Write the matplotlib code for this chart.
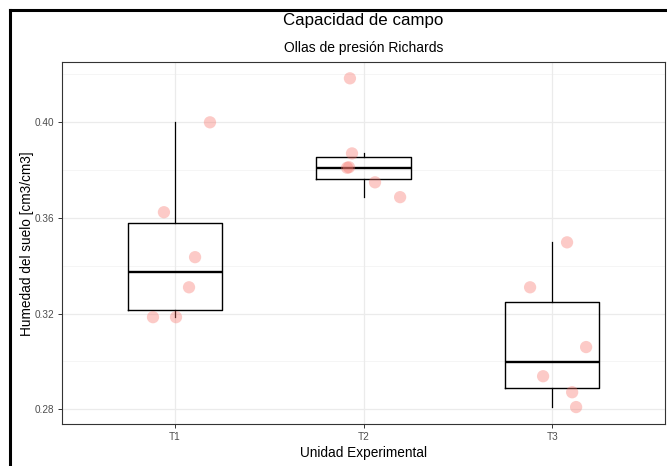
import matplotlib.pyplot as plt
from matplotlib.lines import Line2D
import numpy as np

plt.rcParams['font.family'] = ['Liberation Sans', 'DejaVu Sans']

# Datos
grupos = ['T1', 'T2', 'T3']
t1 = [0.400, 0.3624, 0.3436, 0.331, 0.3185, 0.3185]
t2 = [0.4184, 0.387, 0.381, 0.3812, 0.3749, 0.3687]
t3 = [0.3498, 0.331, 0.306, 0.2938, 0.2871, 0.2809]
# desplazamiento horizontal del jitter
jit1 = [0.186, -0.058, 0.107, 0.075, -0.116, 0.006]
jit2 = [-0.072, -0.061, -0.087, -0.077, 0.061, 0.194]
jit3 = [0.079, -0.117, 0.18, -0.048, 0.106, 0.127]

valores = [t1, t2, t3]
jitters = [jit1, jit2, jit3]

fig = plt.figure(figsize=(6.67, 4.66), dpi=100)
ax = fig.add_axes([0.0925, 0.0895, 0.905, 0.7768])

pos = np.arange(1, len(grupos) + 1)

# rejilla estilo theme_bw
for y in [0.30, 0.34, 0.38, 0.42]:
    ax.axhline(y, color='#F4F4F4', lw=0.6, zorder=0)
for y in [0.28, 0.32, 0.36, 0.40]:
    ax.axhline(y, color='#EBEBEB', lw=0.9, zorder=0)
for x in pos:
    ax.axvline(x, color='#EBEBEB', lw=0.9, zorder=0)

ax.boxplot(valores, positions=pos, widths=0.5, showfliers=False, showcaps=False,
           boxprops=dict(color='black', lw=1.0),
           whiskerprops=dict(color='black', lw=0.9),
           medianprops=dict(color='black', lw=1.7),
           zorder=2)

for p, vals, jit in zip(pos, valores, jitters):
    ax.scatter(p + np.array(jit), vals, s=78, color='#F8766D', alpha=0.38,
               edgecolors='none', zorder=3)

ax.set_xlim(0.4, 3.6)
ax.set_ylim(0.2737, 0.4251)
ax.set_xticks(pos)
ax.set_xticklabels(grupos)
ax.set_yticks([0.28, 0.32, 0.36, 0.40])
ax.set_yticklabels(['0.28', '0.32', '0.36', '0.40'])
ax.tick_params(axis='both', length=3, width=0.7, color='#333333',
               labelcolor='#4D4D4D', labelsize=7.2, pad=2.5)
for s in ax.spines.values():
    s.set_color('#333333')
    s.set_linewidth(0.8)

ax.set_xlabel('Unidad Experimental', fontsize=9.8, labelpad=3)
ax.set_ylabel('Humedad del suelo [cm3/cm3]', fontsize=9.8, labelpad=0.5)

fig.text(0.545, 0.956, 'Capacidad de campo', ha='center', va='center', fontsize=12.2)
fig.text(0.545, 0.898, 'Ollas de presión Richards', ha='center', va='center', fontsize=10)

# borde negro del recorte original
fig.add_artist(Line2D([0.015, 0.015], [0, 0.979], transform=fig.transFigure, color='black', lw=2.2))
fig.add_artist(Line2D([0.015, 1], [0.979, 0.979], transform=fig.transFigure, color='black', lw=2.2))

fig.savefig('out.png', dpi=100)
